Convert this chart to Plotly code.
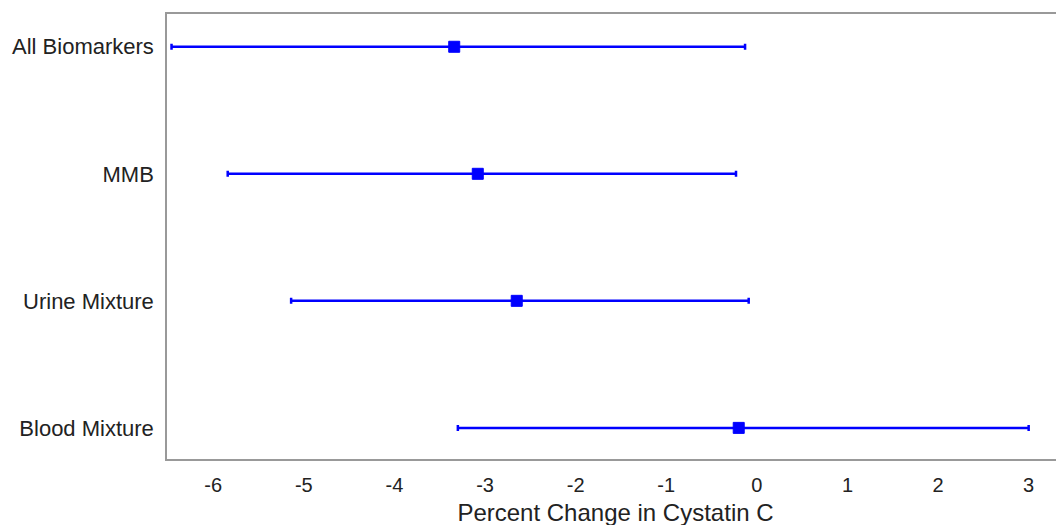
import plotly.graph_objects as go

categories = ["All Biomarkers", "MMB", "Urine Mixture", "Blood Mixture"]
estimate = [-3.34, -3.08, -2.65, -0.20]
lower = [-6.46, -5.84, -5.14, -3.30]
upper = [-0.13, -0.23, -0.09, 3.00]
x_tickvals = [-6, -5, -4, -3, -2, -1, 0, 1, 2, 3]
x_ticktext = ["-6", "-5", "-4", "-3", "-2", "-1", "0", "1", "2", "3"]

err_plus = [u - e for u, e in zip(upper, estimate)]
err_minus = [e - l for e, l in zip(estimate, lower)]

fig = go.Figure()
fig.add_trace(go.Scatter(
    x=estimate, y=categories, mode="markers",
    marker=dict(symbol="square", size=11, color="#0000FF",
                line=dict(color="#0000FF", width=1)),
    error_x=dict(type="data", symmetric=False, array=err_plus, arrayminus=err_minus,
                 color="#0000FF", thickness=2.5, width=3),
    showlegend=False,
))

fig.update_layout(
    width=1064, height=525,
    margin=dict(l=158, r=8, t=4, b=74),
    paper_bgcolor="white", plot_bgcolor="white",
    font=dict(family="Liberation Sans, Arial, sans-serif", size=20, color="#222222"),
    xaxis=dict(
        range=[-6.51, 3.39], tickvals=x_tickvals, ticktext=x_ticktext,
        tickfont=dict(size=20),
        showgrid=False, zeroline=False, showline=True, linecolor="#999999",
        linewidth=1.5, mirror=True, ticks="", ticklabelstandoff=7,
        title=dict(text="Percent Change in Cystatin C", font=dict(size=24), standoff=9),
    ),
    yaxis=dict(
        categoryorder="array", categoryarray=categories,
        tickfont=dict(size=22),
        range=[3.245, -0.258], showgrid=False, zeroline=False, showline=True,
        linecolor="#999999", linewidth=1.5, mirror=False, ticks="", ticklabelstandoff=7,
    ),
)

fig.write_html("out.html")
